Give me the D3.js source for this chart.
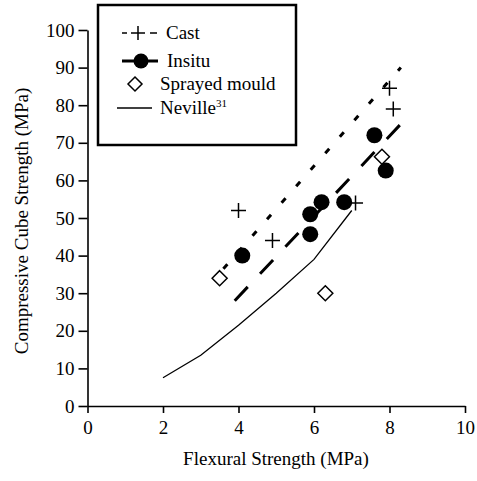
<!DOCTYPE html>
<html>
<head>
<meta charset="utf-8">
<script src="https://cdn.jsdelivr.net/npm/d3@7"></script>
<style>
  body { margin: 0; background: #fff; }
  svg { display: block; }
  svg text { font-family: "Liberation Serif", Tinos, "Times New Roman", Times, "DejaVu Serif", serif !important; }
</style>
</head>
<body>
<svg id="chart" width="477" height="481"></svg>
<script>
// --- data ---
const castX = [4.0, 4.9, 7.1, 8.0, 8.1];
const castY = [52, 44, 54, 84.5, 79];
const insituX = [4.1, 5.9, 5.9, 6.2, 6.8, 7.6, 7.9];
const insituY = [40, 45.7, 51, 54.2, 54.2, 72, 62.6];
const sprayX = [3.5, 6.3, 7.8];
const sprayY = [34, 30, 66.3];
const nevilleX = [2, 3, 4, 5, 6, 7];
const nevilleY = [7.5, 13.5, 21.5, 30, 39, 52];
const castFitX = [3.6, 8.3];
const castFitY = [36.5, 90];
const insituFitX = [3.9, 8.3];
const insituFitY = [28, 75];
const xTicks = [0, 2, 4, 6, 8, 10];
const yTicks = [0, 10, 20, 30, 40, 50, 60, 70, 80, 90, 100];

const svg = d3.select('#chart');
const x = d3.scaleLinear().domain([0, 10]).range([87.5, 465]);
const y = d3.scaleLinear().domain([0, 100]).range([406, 30]);

const pts = (xs, ys) => xs.map((v, i) => ({ x: v, y: ys[i] }));
const line = d3.line().x(d => x(d.x)).y(d => y(d.y));

// --- axes ---
const xAxis = svg.append('g')
    .attr('transform', `translate(0,${y(0)})`)
    .call(d3.axisBottom(x).tickValues(xTicks).tickSize(7).tickPadding(8).tickSizeOuter(0));
const yAxis = svg.append('g')
    .attr('transform', `translate(${x(0)},0)`)
    .call(d3.axisLeft(y).tickValues(yTicks).tickSize(9).tickPadding(4).tickSizeOuter(0));
[xAxis, yAxis].forEach(a => {
    a.attr('font-family', null).attr('font-size', null);
    a.selectAll('.domain, .tick line').attr('stroke', '#000').attr('stroke-width', 1.6);
    a.selectAll('text').attr('fill', '#000').style('font-size', '19px');
});

svg.append('text')
    .attr('x', 276).attr('y', 465)
    .attr('text-anchor', 'middle')
    .style('font-size', '19px')
    .text('Flexural Strength (MPa)');
svg.append('text')
    .attr('transform', 'translate(28,221) rotate(-90)')
    .attr('text-anchor', 'middle')
    .style('font-size', '19px')
    .text('Compressive Cube Strength (MPa)');

// --- lines ---
svg.append('path').datum(pts(nevilleX, nevilleY))
    .attr('d', line).attr('fill', 'none').attr('stroke', '#000').attr('stroke-width', 1.3);
svg.append('path').datum(pts(castFitX, castFitY))
    .attr('d', line).attr('fill', 'none').attr('stroke', '#000').attr('stroke-width', 3)
    .attr('stroke-dasharray', '6,16');
svg.append('path').datum(pts(insituFitX, insituFitY))
    .attr('d', line).attr('fill', 'none').attr('stroke', '#000').attr('stroke-width', 3)
    .attr('stroke-dasharray', '19,18');

// --- markers ---
const crossPath = s => `M${-s},0H${s}M0,${-s}V${s}`;
const diamond = s => `M0,${-s}L${s},0L0,${s}L${-s},0Z`;

svg.selectAll('.cast').data(pts(castX, castY)).enter().append('path')
    .attr('class', 'cast')
    .attr('transform', d => `translate(${x(d.x)},${y(d.y)})`)
    .attr('d', crossPath(7.5))
    .attr('stroke', '#000').attr('stroke-width', 1.5).attr('fill', 'none');

svg.selectAll('.insitu').data(pts(insituX, insituY)).enter().append('circle')
    .attr('class', 'insitu')
    .attr('cx', d => x(d.x)).attr('cy', d => y(d.y)).attr('r', 8)
    .attr('fill', '#000');

svg.selectAll('.spray').data(pts(sprayX, sprayY)).enter().append('path')
    .attr('class', 'spray')
    .attr('transform', d => `translate(${x(d.x)},${y(d.y)})`)
    .attr('d', diamond(7.5))
    .attr('fill', '#fff').attr('stroke', '#000').attr('stroke-width', 1.5);

// --- legend ---
const lg = svg.append('g');
lg.append('rect').attr('x', 98).attr('y', 5).attr('width', 198).attr('height', 140)
    .attr('fill', '#fff').attr('stroke', '#000').attr('stroke-width', 2.5);

const rowY = [33, 61, 84, 108];
// Cast
lg.append('path').attr('d', `M122,${rowY[0]}H127M150,${rowY[0]}H157`)
    .attr('stroke', '#000').attr('stroke-width', 1.5);
lg.append('path').attr('transform', `translate(138,${rowY[0]})`).attr('d', crossPath(7))
    .attr('stroke', '#000').attr('stroke-width', 1.5);
// Insitu
lg.append('path').attr('d', `M122,${rowY[1]}H158`).attr('stroke', '#000').attr('stroke-width', 3);
lg.append('circle').attr('cx', 141).attr('cy', rowY[1]).attr('r', 7.5).attr('fill', '#000');
// Sprayed mould
lg.append('path').attr('transform', `translate(135,${rowY[2]})`).attr('d', diamond(7))
    .attr('fill', '#fff').attr('stroke', '#000').attr('stroke-width', 1.5);
// Neville
lg.append('path').attr('d', `M117,${rowY[3]}H152`).attr('stroke', '#000').attr('stroke-width', 1.3);

const labels = [
    { t: 'Cast', x: 166 },
    { t: 'Insitu', x: 167 },
    { t: 'Sprayed mould', x: 160 },
    { t: 'Neville', x: 160 }
];
labels.forEach((l, i) => {
    const tx = lg.append('text').attr('x', l.x).attr('y', rowY[i] + 6)
        .style('font-size', '19px').text(l.t);
    if (i === 3) {
        tx.append('tspan').attr('dy', -7).style('font-size', '11px').text('31');
    }
});
</script>
</body>
</html>
